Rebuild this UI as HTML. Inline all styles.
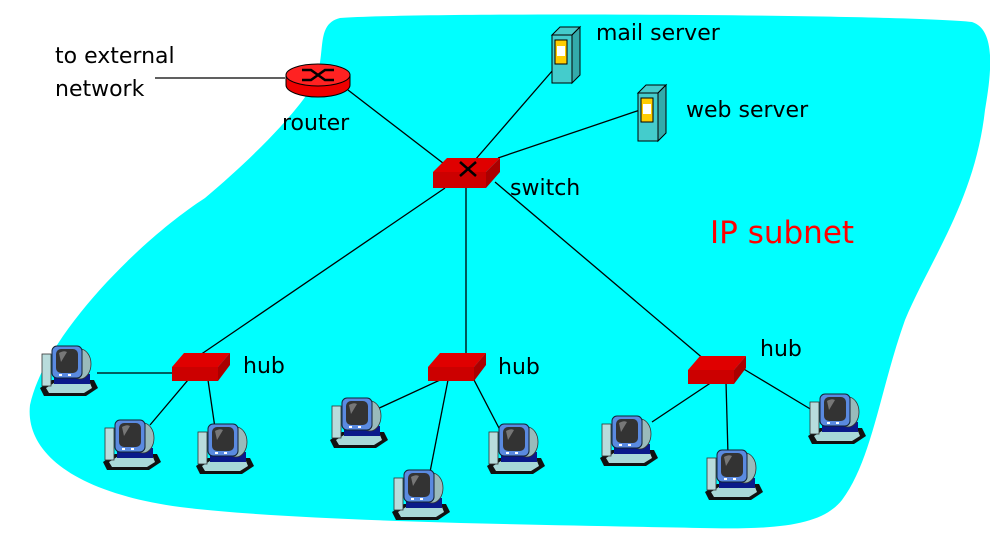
<!DOCTYPE html>
<html><head><meta charset="utf-8"><style>
html,body{margin:0;padding:0;background:#fff;}
svg{display:block;}
text{font-family:"DejaVu Sans","Liberation Sans",sans-serif;}
</style></head><body>
<svg width="990" height="539" viewBox="0 0 990 539" xmlns="http://www.w3.org/2000/svg">
<defs>
<g id="pc">
  <polygon points="0,42 12,34 54,34 58,42 46,50 4,50" fill="#111"/>
  <polygon points="6,42 14,37 50,37 52,42 44,47 9,47" fill="#a8d8d8"/>
  <rect x="2" y="8" width="9" height="32" fill="#b8dcdc" stroke="#333" stroke-width="0.8"/>
  <rect x="14" y="28" width="36" height="10" fill="#0a1a8a"/>
  <ellipse cx="40" cy="18" rx="11" ry="15" fill="#9bb" stroke="#333" stroke-width="0.8"/>
  <rect x="12" y="0" width="30" height="32" rx="5" fill="#5a8ae0" stroke="#123" stroke-width="1"/>
  <rect x="16" y="3" width="22" height="24" rx="5" fill="#333"/>
  <path d="M19,7 Q24,4 27,6 L21,16 Z" fill="#777"/>
  <rect x="19" y="28" width="3" height="2" fill="#fff"/><rect x="28" y="28" width="3" height="2" fill="#fff"/>
</g>
<g id="hub">
  <polygon points="0,14 12,0 58,0 46,14" fill="#e00000"/>
  <polygon points="46,14 58,0 58,12 46,28" fill="#a00"/>
  <rect x="0" y="14" width="46" height="14" fill="#c00"/>
</g>
<g id="srv">
  <polygon points="0,8 8,0 28,0 20,8" fill="#4cc" stroke="#000" stroke-width="1"/>
  <polygon points="20,8 28,0 28,48 20,56" fill="#3aa" stroke="#000" stroke-width="1"/>
  <rect x="0" y="8" width="20" height="48" fill="#4cc" stroke="#000" stroke-width="1"/>
  <rect x="3" y="13" width="12" height="24" fill="#fc0" stroke="#000" stroke-width="1"/>
  <rect x="5" y="19" width="8" height="10" fill="#fff"/>
</g>
</defs>
<path d="M340,18 C420,12 900,14 972,22 C998,30 990,80 985,110 C975,200 930,260 905,320 C880,390 872,460 842,500 C822,525 780,530 700,528 C550,525 300,522 180,507 C70,492 25,450 30,405 C45,335 140,240 205,198 C250,160 290,120 310,90 C330,60 312,25 340,18 Z" fill="#00ffff"/>
<g stroke="#000" stroke-width="1.3" fill="none">
  <line x1="155" y1="78" x2="285" y2="78"/>
  <line x1="348" y1="90" x2="452" y2="170"/>
  <line x1="553" y1="70" x2="475" y2="160"/>
  <line x1="640" y1="110" x2="498" y2="158"/>
  <line x1="445" y1="188" x2="200" y2="355"/>
  <line x1="466" y1="188" x2="466" y2="354"/>
  <line x1="495" y1="182" x2="705" y2="360"/>
  <line x1="97" y1="373" x2="175" y2="373"/>
  <line x1="188" y1="380" x2="150" y2="425"/>
  <line x1="208" y1="380" x2="215" y2="428"/>
  <line x1="440" y1="380" x2="375" y2="410"/>
  <line x1="448" y1="380" x2="430" y2="472"/>
  <line x1="474" y1="380" x2="500" y2="430"/>
  <line x1="712" y1="382" x2="652" y2="422"/>
  <line x1="726" y1="382" x2="728" y2="455"/>
  <line x1="742" y1="368" x2="812" y2="410"/>
</g>
<ellipse cx="318" cy="85" rx="32" ry="12" fill="#e00" stroke="#000"/>
<rect x="286" y="75" width="64" height="10" fill="#e00"/>
<line x1="286" y1="75" x2="286" y2="85" stroke="#000"/><line x1="350" y1="75" x2="350" y2="85" stroke="#000"/>
<ellipse cx="318" cy="75" rx="32" ry="11" fill="#f22" stroke="#000"/>
<path d="M302,70 L311,70 L325,80 L334,80 M302,80 L311,80 L325,70 L334,70" stroke="#000" stroke-width="2.5" fill="none"/>
<polygon points="433,172 447,158 500,158 486,172" fill="#e00000"/>
<polygon points="486,172 500,158 500,172 486,188" fill="#a00"/>
<rect x="433" y="172" width="53" height="16" fill="#c00"/>
<path d="M460,162 L476,176 M476,162 L460,176" stroke="#000" stroke-width="2.5"/>
<use href="#hub" x="172" y="353"/>
<use href="#hub" x="428" y="353"/>
<use href="#hub" x="688" y="356"/>
<use href="#srv" x="552" y="27"/>
<use href="#srv" x="638" y="85"/>
<use href="#pc" x="40" y="346"/>
<use href="#pc" x="103" y="420"/>
<use href="#pc" x="196" y="424"/>
<use href="#pc" x="330" y="398"/>
<use href="#pc" x="392" y="470"/>
<use href="#pc" x="487" y="424"/>
<use href="#pc" x="600" y="416"/>
<use href="#pc" x="705" y="450"/>
<use href="#pc" x="808" y="394"/>
<g font-size="22" fill="#000">
<text x="55" y="63">to external</text>
<text x="55" y="96">network</text>
<text x="282" y="130">router</text>
<text x="596" y="40">mail server</text>
<text x="686" y="117">web server</text>
<text x="510" y="195">switch</text>
<text x="243" y="373">hub</text>
<text x="498" y="374">hub</text>
<text x="760" y="356">hub</text>
</g>
<text x="710" y="243" font-size="31" fill="#f00">IP subnet</text>
</svg>
</body></html>
